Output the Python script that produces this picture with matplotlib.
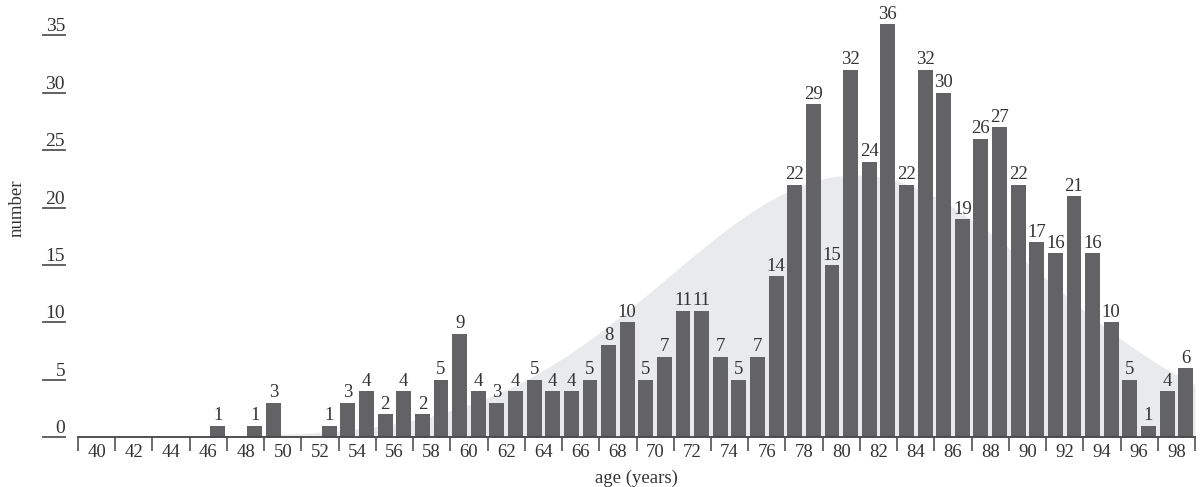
import numpy as np
import matplotlib
matplotlib.use("Agg")
import matplotlib.pyplot as plt

plt.rcParams["font.family"] = ["Liberation Serif", "DejaVu Serif"]

# Data: number of people per age (years)
ages = list(range(40, 100))
counts = [0, 0, 0, 0, 0, 0, 0, 1, 0, 1,
          3, 0, 0, 1, 3, 4, 2, 4, 2, 5,
          9, 4, 3, 4, 5, 4, 4, 5, 8, 10,
          5, 7, 11, 11, 7, 5, 7, 14, 22, 29,
          15, 32, 24, 36, 22, 32, 30, 19, 26, 27,
          22, 17, 16, 21, 16, 10, 5, 1, 4, 6]
x_labels = list(range(40, 100, 2))
y_ticks = [0, 5, 10, 15, 20, 25, 30, 35]

BAR = "#636366"
FILL = "#e9eaec"
TEXT = "#333333"

ages_a = np.array(ages)
counts_a = np.array(counts)

# normal curve fitted to the data, scaled to counts
mean = (ages_a * counts_a).sum() / counts_a.sum()
sd = np.sqrt((counts_a * (ages_a - mean) ** 2).sum() / counts_a.sum())
xs = np.linspace(ages[0] - 0.5, ages[-1] + 0.5, 400)
curve = counts_a.sum() / (sd * np.sqrt(2 * np.pi)) * np.exp(-0.5 * ((xs - mean) / sd) ** 2)

fig = plt.figure(figsize=(12.02, 4.87), dpi=100)
ax = fig.add_axes([78 / 1202, 50 / 487, 1117 / 1202, 436 / 487])

ax.fill_between(xs, 0, curve, color=FILL, lw=0, zorder=0)
ax.bar(ages, counts, width=0.8, color=BAR, zorder=2)

for a, c in zip(ages, counts):
    if c > 0:
        ax.annotate(str(c), (a, c), xytext=(0, 1), textcoords="offset points",
                    ha="center", va="bottom", fontsize=13.5, color=TEXT)

ax.set_xlim(ages[0] - 0.5, ages[-1] + 0.5)
ax.set_ylim(0, 38)

for s in ["top", "right", "left"]:
    ax.spines[s].set_visible(False)
ax.spines["bottom"].set_color("#444444")
ax.spines["bottom"].set_linewidth(1.3)

# x axis: separators between pairs of years, labels in between
ax.set_xticks([v - 0.5 for v in x_labels] + [ages[-1] + 0.5])
ax.set_xticklabels([])
ax.set_xticks([v + 0.5 for v in x_labels], minor=True)
ax.set_xticklabels([str(v) for v in x_labels], minor=True)
ax.tick_params(axis="x", which="major", direction="out", length=10, width=1.1, color="#444444")
ax.tick_params(axis="x", which="minor", length=0, pad=5, labelsize=13.5, labelcolor=TEXT)

# y axis: labels sitting on short lines
ax.set_yticks([])
yt = ax.get_yaxis_transform()
for v in y_ticks:
    ax.plot([-0.0313, -0.0116], [v, v], transform=yt, clip_on=False, color="#555555", lw=1.3)
    ax.text(-0.0116, v, str(v), transform=yt, ha="right", va="bottom", fontsize=14, color=TEXT)

fig.text(636.5 / 1202, 1 - 478 / 487, "age (years)", ha="center", va="center", fontsize=13.5, color=TEXT)
fig.text(17 / 1202, 1 - 208 / 487, "number", ha="center", va="center", rotation=90, fontsize=13.5, color=TEXT)

fig.savefig("out.png", dpi=100)
